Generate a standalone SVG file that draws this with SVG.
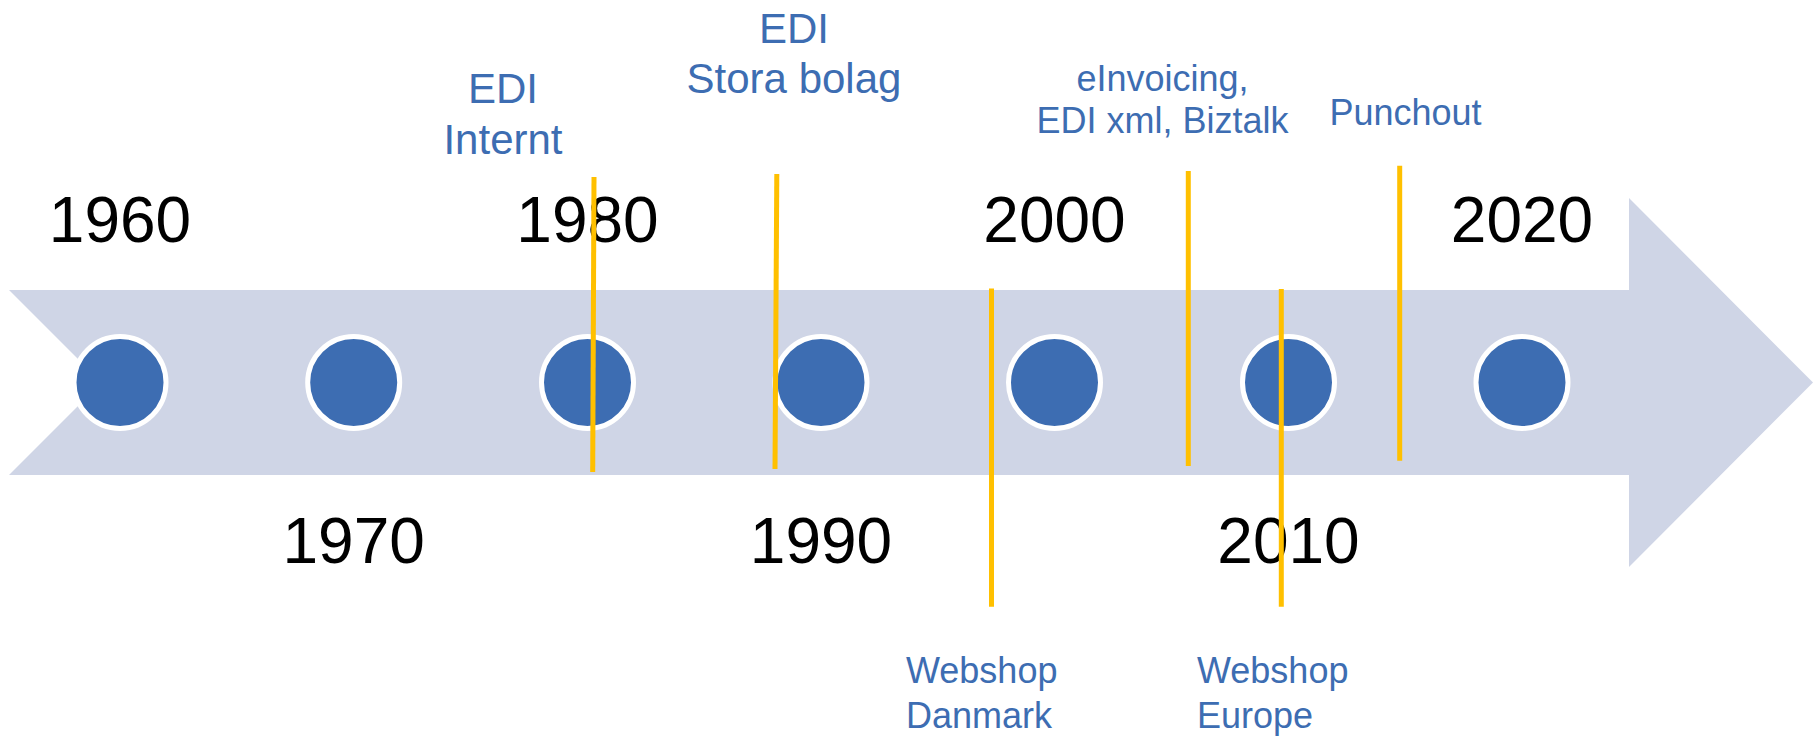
<svg xmlns="http://www.w3.org/2000/svg" width="1817" height="736" viewBox="0 0 1817 736">
<style>
.dot{fill:#3D6DB2;stroke:#FFFFFF;stroke-width:5}
.year{font-family:"Liberation Sans",Arial,sans-serif;font-size:64px;fill:#000000;text-anchor:middle}
.lbl{font-family:"Liberation Sans",Arial,sans-serif;fill:#3D6DB2}
.mid{text-anchor:middle}
.tick{stroke:#FFC000;stroke-width:5;fill:none}
</style>
<rect width="1817" height="736" fill="#FFFFFF"/>
<g id="arrow">
<path d="M9,290 L1629,290 L1629,198 L1813,382.5 L1629,567 L1629,475 L9,475 L101.5,382.5 Z" fill="#CFD5E6"/>
</g>
<g id="n1960"><circle class="dot" cx="120" cy="382.5" r="46"/><text class="year" x="120" y="242">1960</text></g>
<g id="n1970"><circle class="dot" cx="353.7" cy="382.5" r="46"/><text class="year" x="353.7" y="563">1970</text></g>
<g id="n1980"><circle class="dot" cx="587.5" cy="382.5" r="46"/><text class="year" x="587.5" y="242">1980</text></g>
<g id="n1990"><circle class="dot" cx="821" cy="382.5" r="46"/><text class="year" x="821" y="563">1990</text></g>
<g id="n2000"><circle class="dot" cx="1054.5" cy="382.5" r="46"/><text class="year" x="1054.5" y="242">2000</text></g>
<g id="n2010"><circle class="dot" cx="1288.5" cy="382.5" r="46"/><text class="year" x="1288.5" y="563">2010</text></g>
<g id="n2020"><circle class="dot" cx="1522" cy="382.5" r="46"/><text class="year" x="1522" y="242">2020</text></g>
<g id="l-edi-internt"><text class="lbl mid" font-size="42" x="503" y="103">EDI</text><text class="lbl mid" font-size="42" x="503" y="154">Internt</text></g>
<g id="l-edi-stora"><text class="lbl mid" font-size="42" x="794" y="43">EDI</text><text class="lbl mid" font-size="42" x="794" y="93">Stora bolag</text></g>
<g id="l-einvoicing"><text class="lbl mid" font-size="36" x="1162.5" y="91">eInvoicing,</text><text class="lbl mid" font-size="36" x="1162.5" y="133">EDI xml, Biztalk</text></g>
<g id="l-punchout"><text class="lbl mid" font-size="36" x="1405.5" y="125">Punchout</text></g>
<g id="l-webshop-dk"><text class="lbl" font-size="36" x="906" y="683">Webshop</text><text class="lbl" font-size="36" x="906" y="728">Danmark</text></g>
<g id="l-webshop-eu"><text class="lbl" font-size="36" x="1197" y="683">Webshop</text><text class="lbl" font-size="36" x="1197" y="728">Europe</text></g>
<g id="connectors">
<line class="tick" x1="594" y1="177" x2="592.7" y2="472"/>
<line class="tick" x1="776.8" y1="174" x2="775" y2="469"/>
<line class="tick" x1="991.5" y1="288.5" x2="991.5" y2="606.7"/>
<line class="tick" x1="1188.3" y1="171" x2="1188.3" y2="466"/>
<line class="tick" x1="1281.3" y1="289" x2="1281.3" y2="606.7"/>
<line class="tick" x1="1399.7" y1="165.7" x2="1399.7" y2="460.7"/>
</g>
</svg>
